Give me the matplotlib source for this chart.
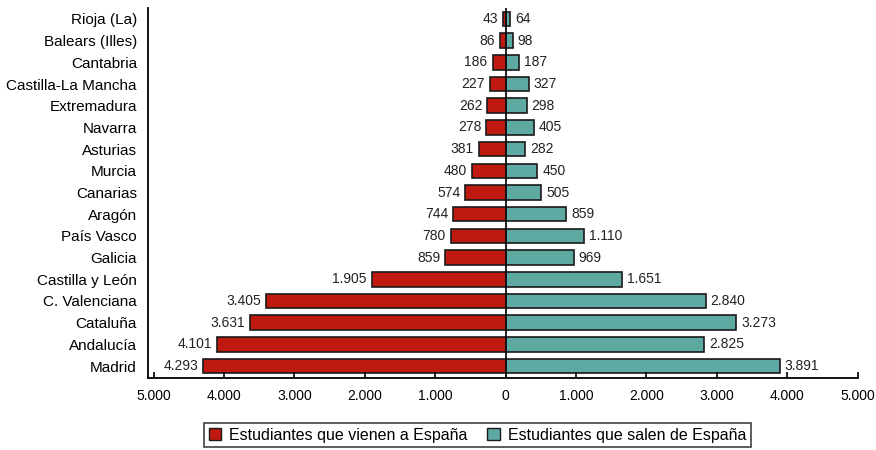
import matplotlib
matplotlib.use("Agg")
import matplotlib.pyplot as plt
from matplotlib.patches import Patch

regiones = ["Rioja (La)", "Balears (Illes)", "Cantabria", "Castilla-La Mancha",
            "Extremadura", "Navarra", "Asturias", "Murcia", "Canarias", "Aragón",
            "País Vasco", "Galicia", "Castilla y León", "C. Valenciana",
            "Cataluña", "Andalucía", "Madrid"]
vienen = [43, 86, 186, 227, 262, 278, 381, 480, 574, 744, 780, 859, 1905,
          3405, 3631, 4101, 4293]
salen = [64, 98, 187, 327, 298, 405, 282, 450, 505, 859, 1110, 969, 1651,
         2840, 3273, 2825, 3891]
ticks = [-5000, -4000, -3000, -2000, -1000, 0, 1000, 2000, 3000, 4000, 5000]

plt.rcParams['font.family'] = ['Liberation Sans Narrow', 'Liberation Sans', 'DejaVu Sans']

ROJO = '#c01a10'
VERDE = '#5fa9a3'


def fmt(v):
    return f"{abs(v):,}".replace(",", ".")


fig = plt.figure(figsize=(8.76, 4.5), dpi=100)
ax = fig.add_axes([0.169, 0.16, 0.81, 0.822])

pos = list(range(len(regiones)))
ax.barh(pos, [-v for v in vienen], height=0.67, color=ROJO, edgecolor='#1a1a1a', linewidth=1.2)
ax.barh(pos, salen, height=0.67, color=VERDE, edgecolor='#1a1a1a', linewidth=1.2)

for p, v in zip(pos, vienen):
    ax.text(-v - 70, p, fmt(v), ha='right', va='center', fontsize=10, color='#222222')
for p, v in zip(pos, salen):
    ax.text(v + 70, p, fmt(v), ha='left', va='center', fontsize=10, color='#222222')

ax.axvline(0, color='#111111', linewidth=1.3)

ax.set_xlim(-5080, 5000)
ax.set_ylim(16.55, -0.5)
ax.set_yticks(pos)
ax.set_yticklabels(regiones, fontsize=11)
ax.set_xticks(ticks)
ax.set_xticklabels([fmt(t) for t in ticks], fontsize=10)
ax.tick_params(axis='y', length=0, pad=8)
ax.tick_params(axis='x', direction='in', length=4, width=1.2, pad=8)

for s in ['top', 'right']:
    ax.spines[s].set_visible(False)
ax.spines['left'].set_linewidth(1.3)
ax.spines['bottom'].set_linewidth(1.3)

handles = [Patch(facecolor=ROJO, edgecolor='#1a1a1a'),
           Patch(facecolor=VERDE, edgecolor='#1a1a1a')]
leg = fig.legend(handles, ["Estudiantes que vienen a España", "Estudiantes que salen de España"],
                 loc='lower center', bbox_to_anchor=(0.545, -0.012), ncol=2, fontsize=11.5,
                 frameon=True, fancybox=False, edgecolor='#111111',
                 handlelength=0.8, handleheight=0.8, handletextpad=0.5, columnspacing=1.2,
                 borderpad=0.3)
leg.get_frame().set_linewidth(1.2)

fig.savefig("out.png", dpi=100)
